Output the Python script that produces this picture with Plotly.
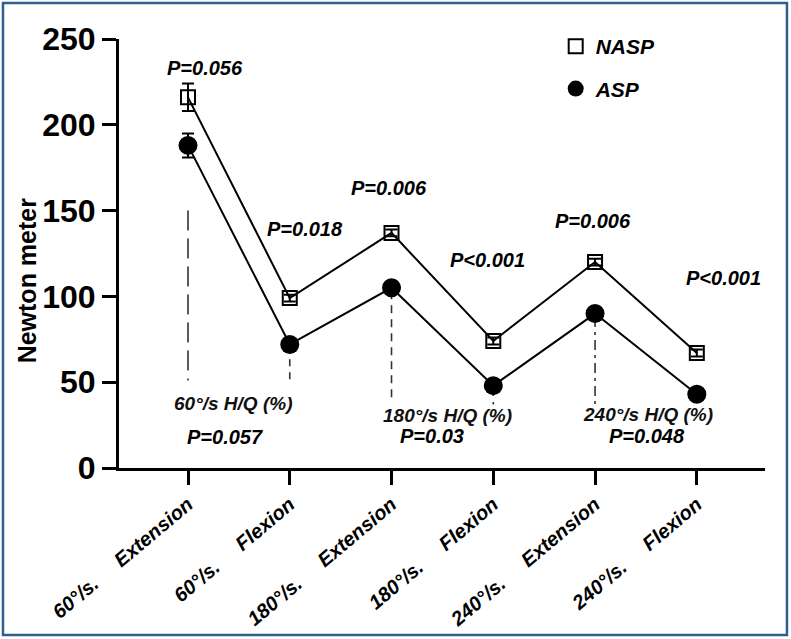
import plotly.graph_objects as go

# ---- data ----
categories = ["60°/s. Extension", "60°/s. Flexion", "180°/s. Extension",
              "180°/s. Flexion", "240°/s. Extension", "240°/s. Flexion"]
speed_labels = ["60°/s.", "60°/s.", "180°/s.", "180°/s.", "240°/s.", "240°/s."]
motion_labels = ["Extension", "Flexion", "Extension", "Flexion", "Extension", "Flexion"]

nasp_values = [216, 99, 137, 74, 120, 67]
nasp_err = [8, 2, 2, 2, 2, 2]
asp_values = [188, 72, 105, 48, 90, 43]
asp_err = [7, 2, 2, 2, 2, 2]

peak_p_labels = ["P=0.056", "P=0.018", "P=0.006", "P<0.001", "P=0.006", "P<0.001"]
peak_p_x = [0.17, 1.15, 1.98, 2.94, 3.98, 5.26]
peak_p_y = [233, 139, 163, 121, 144, 111]

hq_labels = ["60°/s H/Q (%)", "180°/s H/Q (%)", "240°/s H/Q (%)"]
hq_label_x = [0.44, 2.55, 4.52]
hq_label_y = [37.5, 30.5, 31]
hq_p_labels = ["P=0.057", "P=0.03", "P=0.048"]
hq_p_x = [0.36, 2.40, 4.51]
hq_p_y = [18, 18.5, 18.5]

hq_line_x = [0, 1, 2, 3, 4]
hq_line_top = [150, 71, 103, 46, 88]
hq_line_bottom = [51, 50, 40, 37, 36]
hq_line_dash = ["20px,8px", "7px,6px", "8px,6px", "7px,6px", "10px,5px,3px,5px"]

FONT = "Liberation Sans, Arial, sans-serif"
x_idx = list(range(len(categories)))

fig = go.Figure()

# dashed H/Q guide lines
for xv, top, bot, dash in zip(hq_line_x, hq_line_top, hq_line_bottom, hq_line_dash):
    fig.add_trace(go.Scatter(x=[xv, xv], y=[top, bot], mode="lines",
                             line=dict(color="#333333", width=1.6, dash=dash),
                             showlegend=False, hoverinfo="skip"))

# connecting lines
for vals in (nasp_values, asp_values):
    fig.add_trace(go.Scatter(x=x_idx, y=vals, mode="lines",
                             line=dict(color="black", width=2),
                             showlegend=False, hoverinfo="skip"))

fig.add_trace(go.Scatter(
    x=x_idx, y=nasp_values, mode="markers", name="<b><i>NASP</i></b>",
    legendgroup="nasp",
    marker=dict(symbol="square-open", size=14, color="black", line=dict(width=2)),
    error_y=dict(type="data", array=nasp_err, color="black", thickness=2, width=6),
))
fig.add_trace(go.Scatter(
    x=x_idx, y=asp_values, mode="markers", name="<b><i>ASP</i></b>",
    legendgroup="asp",
    marker=dict(symbol="circle", size=19, color="black"),
    error_y=dict(type="data", array=asp_err, color="black", thickness=2, width=6),
))

annotations = []
for t, xv, yv in zip(peak_p_labels, peak_p_x, peak_p_y):
    annotations.append(dict(x=xv, y=yv, xref="x", yref="y", text=f"<b><i>{t}</i></b>",
                            showarrow=False, font=dict(family=FONT, size=20, color="black")))
for t, xv, yv in zip(hq_labels, hq_label_x, hq_label_y):
    annotations.append(dict(x=xv, y=yv, xref="x", yref="y", text=f"<b><i>{t}</i></b>",
                            showarrow=False, font=dict(family=FONT, size=19, color="#111111")))
for t, xv, yv in zip(hq_p_labels, hq_p_x, hq_p_y):
    annotations.append(dict(x=xv, y=yv, xref="x", yref="y", text=f"<b><i>{t}</i></b>",
                            showarrow=False, font=dict(family=FONT, size=20, color="black")))
annotations.append(dict(x=-0.142, y=0.438, xref="paper", yref="paper",
                        xanchor="center", yanchor="middle",
                        text="<b>Newton meter</b>", textangle=-90, showarrow=False,
                        font=dict(family=FONT, size=25, color="black")))

sp = "\u00a0" * 5
ticktext = [f"<b><i>{s}{sp}{m}</i></b>" for s, m in zip(speed_labels, motion_labels)]

fig.update_layout(
    width=791, height=639,
    margin=dict(l=119, r=26, t=39, b=171),
    paper_bgcolor="white", plot_bgcolor="white",
    font=dict(family=FONT, color="black"),
    showlegend=True,
    legend=dict(x=0.676, y=1.03, xanchor="left", yanchor="top",
                font=dict(family=FONT, size=21, color="black"),
                bgcolor="rgba(0,0,0,0)", tracegroupgap=12),
    annotations=annotations,
    shapes=[dict(type="rect", xref="paper", yref="paper",
                 x0=-0.1796, x1=1.034, y0=-0.389, y1=1.084,
                 line=dict(color="#2f5f8f", width=2.5), fillcolor="rgba(0,0,0,0)")],
    xaxis=dict(
        range=[-0.678, 5.67], tickmode="array", tickvals=x_idx, ticktext=ticktext,
        tickangle=-40, showline=True, linecolor="black", linewidth=3,
        ticks="outside", ticklen=14, tickwidth=3, tickcolor="black",
        showgrid=False, zeroline=False, automargin=False,
        tickfont=dict(family=FONT, size=20, color="black"),
    ),
    yaxis=dict(
        range=[0, 250], tickvals=[0, 50, 100, 150, 200, 250],
        showline=True, linecolor="black", linewidth=3,
        ticks="outside", ticklen=14, tickwidth=3, tickcolor="black",
        showgrid=False, zeroline=False, automargin=False,
        tickfont=dict(family=FONT, size=32, color="black", weight="bold"),
    ),
)

fig.write_html("out.html", config={"displayModeBar": False},
               post_script="document.body.style.margin='0';document.body.style.overflow='hidden';")
